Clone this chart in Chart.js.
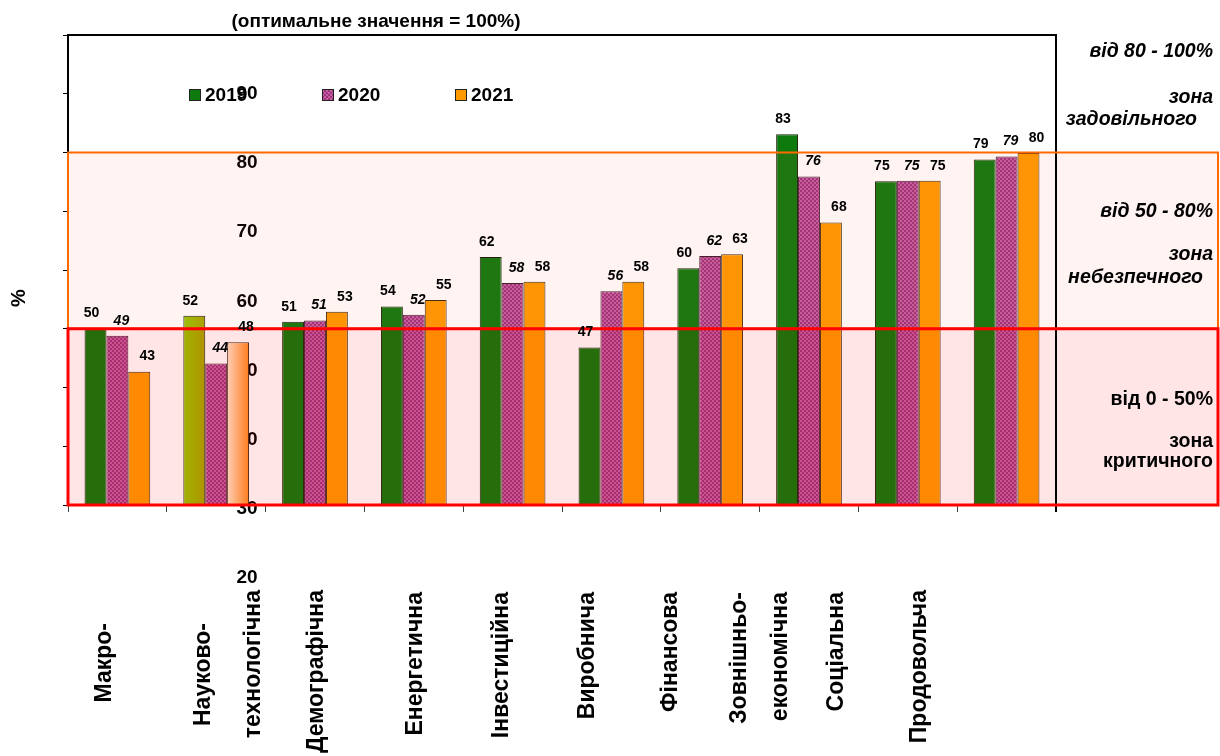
<!DOCTYPE html>
<html><head><meta charset="utf-8">
<script src="https://cdn.jsdelivr.net/npm/chart.js@4/dist/chart.umd.min.js"></script>
<style>html,body{margin:0;padding:0;background:#fff}#wrap{width:1220px;height:756px;position:relative}canvas{display:block}</style>
</head><body><div id="wrap"><canvas id="c" width="1220" height="756" style="width:1220px;height:756px"></canvas></div>
<script>
// ---- data ----
const categories = [["Макро-"], ["Науково-", "технологічна"], ["Демографічна"], ["Енергетична"], ["Інвестиційна"], ["Виробнича"], ["Фінансова"], ["Зовнішньо-", "економічна"], ["Соціальна"], ["Продовольча"]];
const years = ["2019", "2020", "2021"];
const values2019 = [50.1, 52.2, 51.2, 53.8, 62.2, 46.8, 60.3, 83.1, 75.1, 78.8];
const values2020 = [48.8, 44.1, 51.4, 52.4, 57.8, 56.4, 62.4, 75.9, 75.2, 79.3];
const values2021 = [42.7, 47.7, 52.9, 54.9, 58.0, 58.0, 62.7, 68.1, 75.2, 79.9];
const yTickLabels = [90, 80, 70, 60, 50, 40, 30, 20];
const zoneLimits = [50, 80, 100];
const zoneTexts = [
  ["від 0 - 50%", "зона", "критичного"],
  ["від 50 - 80%", "зона", "небезпечного"],
  ["від 80 - 100%", "зона", "задовільного"]
];
const titleText = "(оптимальне значення = 100%)";
const yTitle = "%";

const F = '"Liberation Sans", Arial, sans-serif';

function makePattern(ctx){
  const c = document.createElement('canvas'); c.width = 4; c.height = 4;
  const g = c.getContext('2d');
  g.fillStyle = '#9c3574'; g.fillRect(0,0,4,4);
  g.fillStyle = '#c65caa'; g.fillRect(0,0,2,2); g.fillRect(2,2,2,2);
  return ctx.createPattern(c, 'repeat');
}
const canvas = document.getElementById('c');
const pat2020 = makePattern(canvas.getContext('2d'));

function gradFor(ctx, c0, c1, fallback){
  const meta = ctx.chart.getDatasetMeta(ctx.datasetIndex);
  const el = meta.data[ctx.dataIndex];
  if(!el || !isFinite(el.x) || !el.width) return fallback;
  const g = ctx.chart.ctx.createLinearGradient(el.x - el.width/2, 0, el.x + el.width/2, 0);
  g.addColorStop(0, c0); g.addColorStop(1, c1);
  return g;
}

// layout helpers (text layout only)
const xLabelShift = [[-13], [-13, 37], [2], [2], [-11], [-24], [-40], [-69, -28], [-71], [-87]];
const xLabelTop = [[623], [623, 590], [590], [592], [592], [592], [592], [592, 592], [592], [590]];
const valueDx = [-4, 4, 8];

const decor = {
  id: 'decor',
  beforeDatasetsDraw(chart){
    const {ctx, chartArea: a, scales: {y}} = chart;
    ctx.save();
    ctx.font = 'bold 19px ' + F;
    ctx.fillStyle = '#000';
    ctx.textAlign = 'center'; ctx.textBaseline = 'middle';
    const y90 = y.getPixelForValue(90);
    const k = 1.178;
    const cx = a.left + 179;
    yTickLabels.forEach(v => {
      ctx.fillText(String(v), cx, y90 + (y.getPixelForValue(v) - y90) * k);
    });
    ctx.restore();
  },
  afterDatasetsDraw(chart){
    const {ctx, chartArea: a, scales: {x, y}} = chart;
    const right = chart.width - 2;
    const yMin = y.getPixelForValue(y.min);
    const y50 = y.getPixelForValue(zoneLimits[0]);
    const y80 = y.getPixelForValue(zoneLimits[1]);
    ctx.save();
    ctx.fillStyle = 'rgba(255,90,60,0.065)';
    ctx.fillRect(a.left, y80, right - a.left, y50 - y80);
    ctx.fillStyle = 'rgba(255,0,0,0.1)';
    ctx.fillRect(a.left, y50, right - a.left, yMin - y50);
    ctx.strokeStyle = '#000'; ctx.lineWidth = 2;
    ctx.beginPath();
    ctx.moveTo(a.left, a.top); ctx.lineTo(a.right, a.top); ctx.lineTo(a.right, a.bottom + 7);
    ctx.stroke();
    ctx.strokeStyle = '#ff6a00'; ctx.lineWidth = 2;
    ctx.strokeRect(a.left, y80, right - a.left, y50 - y80);
    ctx.strokeStyle = '#ff0000'; ctx.lineWidth = 3;
    ctx.strokeRect(a.left, y50, right - a.left, yMin - y50);

    ctx.fillStyle = '#000';
    ctx.textAlign = 'center'; ctx.textBaseline = 'middle';
    chart.data.datasets.forEach((ds, di) => {
      const meta = chart.getDatasetMeta(di);
      ctx.font = (di === 1 ? 'italic bold 14px ' : 'bold 14px ') + F;
      meta.data.forEach((el, i) => {
        ctx.fillText(String(Math.round(ds.data[i])), el.x + valueDx[di], el.y - 15);
      });
    });

    ctx.font = 'bold 23px ' + F;
    ctx.textAlign = 'right'; ctx.textBaseline = 'middle';
    categories.forEach((lines, i) => {
      const cxp = x.getPixelForValue(i);
      lines.forEach((t, li) => {
        ctx.save();
        ctx.translate(cxp + xLabelShift[i][li], xLabelTop[i][li]);
        ctx.rotate(-Math.PI/2);
        ctx.fillText(t, 0, 0);
        ctx.restore();
      });
    });

    const colors = ['#0e7a0e', pat2020, '#ff9900'];
    ctx.font = 'bold 19px ' + F;
    ctx.textAlign = 'left'; ctx.textBaseline = 'middle';
    years.forEach((yr, i) => {
      const lx = a.left + 121 + i * 133, ly = a.top + 60;
      ctx.fillStyle = colors[i];
      ctx.fillRect(lx, ly - 6, 12, 12);
      ctx.strokeStyle = '#222'; ctx.lineWidth = 1;
      ctx.strokeRect(lx + 0.5, ly - 5.5, 11, 11);
      ctx.fillStyle = '#000';
      ctx.fillText(yr, lx + 16, ly + 1);
    });

    ctx.textAlign = 'right';
    const tops = [y50, y80, a.top];
    const offs = [[71, 113, 133], [59, 102, 125], [17, 63, 85]];
    const rx = [[1213, 1213, 1213], [1213, 1213, 1203], [1213, 1213, 1197]];
    zoneTexts.forEach((lines, zi) => {
      ctx.font = (zi === 0 ? 'bold 19.5px ' : 'italic bold 19.5px ') + F;
      lines.forEach((t, li) => {
        ctx.fillText(t, rx[zi][li], tops[zi] + offs[zi][li]);
      });
    });

    ctx.font = 'bold 19px ' + F;
    ctx.textAlign = 'center';
    ctx.fillText(titleText, 376, 22);
    ctx.save();
    ctx.translate(19, (a.top + a.bottom) / 2 + 28);
    ctx.rotate(-Math.PI/2);
    ctx.font = 'bold 20px ' + F;
    ctx.textAlign = 'center';
    ctx.fillText(yTitle, 0, 0);
    ctx.restore();
    ctx.restore();
  }
};

const chart = new Chart(canvas, {
  type: 'bar',
  data: {
    labels: categories.map(l => l.join(' ')),
    datasets: [
      { label: years[0], data: values2019,
        backgroundColor: c => c.dataIndex === 1 ? gradFor(c, '#96c800', '#a8a400', '#9cbc00') : '#0e7a0e',
        borderColor: '#1a1a0a', borderWidth: 1 },
      { label: years[1], data: values2020, backgroundColor: pat2020, borderColor: '#3a1a2a', borderWidth: 1 },
      { label: years[2], data: values2021,
        backgroundColor: c => c.dataIndex === 1 ? gradFor(c, '#ffe6cc', '#ff8a1e', '#ffb060') : '#ff9900',
        borderColor: '#3a2a10', borderWidth: 1 }
    ]
  },
  options: {
    responsive: false,
    maintainAspectRatio: false,
    animation: false,
    devicePixelRatio: 1,
    layout: { padding: { top: 35, right: 164, left: 0, bottom: 0 } },
    datasets: { bar: { categoryPercentage: 0.665, barPercentage: 1.0 } },
    plugins: { legend: { display: false }, title: { display: false }, tooltip: { enabled: false } },
    scales: {
      x: {
        offset: true,
        grid: { offset: true, drawOnChartArea: false, drawTicks: true, tickLength: 7, color: '#444' },
        border: { display: false },
        ticks: { display: false },
        afterFit: s => { s.height = 251; }
      },
      y: {
        min: 20, max: 100,
        ticks: { display: false, stepSize: 10 },
        grid: { drawOnChartArea: false, drawTicks: true, tickLength: 5, color: '#000' },
        border: { display: true, color: '#000', width: 2 },
        afterFit: s => { s.width = 68; }
      }
    }
  },
  plugins: [decor]
});
chart.update();
</script>
</body></html>
